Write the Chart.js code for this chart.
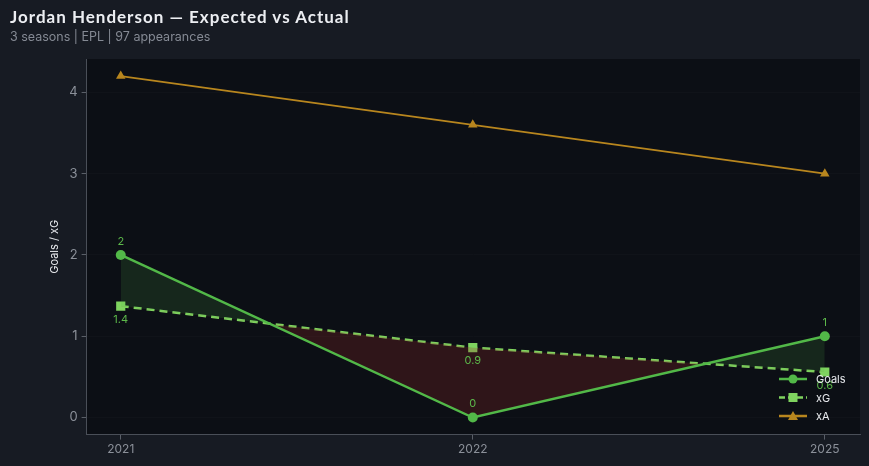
<!DOCTYPE html>
<html>
<head>
<meta charset="utf-8">
<script src="https://cdn.jsdelivr.net/npm/chart.js@4.4.0/dist/chart.umd.min.js"></script>
<style>
  html, body { margin: 0; padding: 0; background: #171b23; }
  #wrap { position: relative; width: 869px; height: 466px; }
  #title { position: absolute; left: 10px; top: 6px; color: #eceef2; font: bold 17px Lato, sans-serif; letter-spacing: 1px; }
  #sub { position: absolute; left: 10px; top: 29px; color: #858a94; font: 12.5px Inter, sans-serif; }
  canvas { position: absolute; left: 0; top: 0; }
</style>
</head>
<body>
<div id="wrap">
  <canvas id="myChart" width="869" height="466"></canvas>
  <div id="title">Jordan Henderson — Expected vs Actual</div>
  <div id="sub">3 seasons | EPL | 97 appearances</div>
</div>
<script>
const seasons = ['2021', '2022', '2025']
const goals = [2, 0, 1]
const xG = [1.37, 0.86, 0.56]
const xA = [4.2, 3.6, 3.0]
const yTicks = [0, 1, 2, 3, 4]

const ctx = document.getElementById('myChart')

const toPoints = (arr) => arr.map((v, i) => ({ x: i, y: v }))

// dark plot background
const plotBg = {
  id: 'plotBg',
  beforeDraw(chart) {
    const { ctx, chartArea: a } = chart
    ctx.save()
    ctx.fillStyle = '#0c0f15'
    ctx.fillRect(a.left, a.top, a.right - a.left, a.bottom - a.top)
    ctx.restore()
  }
}

// value labels for Goals (above) and xG (below)
const valueLabels = {
  id: 'valueLabels',
  afterDatasetsDraw(chart) {
    const c = chart.ctx
    c.save()
    c.font = '11px Inter, sans-serif'
    c.textAlign = 'center'
    chart.getDatasetMeta(0).data.forEach((pt, i) => {
      c.fillStyle = '#5cb84a'
      c.textBaseline = 'bottom'
      c.fillText(String(goals[i]), pt.x, pt.y - 8)
    })
    chart.getDatasetMeta(1).data.forEach((pt, i) => {
      c.fillStyle = '#5cb84a'
      c.textBaseline = 'top'
      c.fillText(xG[i].toFixed(1), pt.x, pt.y + 8)
    })
    c.restore()
  }
}

// legend with line + marker
const lineLegend = {
  id: 'lineLegend',
  afterDraw(chart) {
    const c = chart.ctx
    const items = [
      { label: 'Goals', color: '#52b848', dash: [], marker: 'circle' },
      { label: 'xG', color: '#7fd35f', dash: [6, 3], marker: 'rect' },
      { label: 'xA', color: '#b8861e', dash: [], marker: 'triangle' }
    ]
    const x0 = 779, y0 = 379
    c.save()
    items.forEach((it, i) => {
      const y = y0 + i * 18.5
      c.strokeStyle = it.color
      c.lineWidth = 2.5
      c.setLineDash(it.dash)
      c.beginPath()
      c.moveTo(x0, y)
      c.lineTo(x0 + 28, y)
      c.stroke()
      c.setLineDash([])
      c.fillStyle = it.color
      const mx = x0 + 14
      c.beginPath()
      if (it.marker === 'circle') c.arc(mx, y, 4.5, 0, Math.PI * 2)
      else if (it.marker === 'rect') c.rect(mx - 4.5, y - 4.5, 9, 9)
      else { c.moveTo(mx, y - 5); c.lineTo(mx + 5, y + 4); c.lineTo(mx - 5, y + 4); c.closePath() }
      c.fill()
      c.fillStyle = '#e8eaee'
      c.font = '11px Inter, sans-serif'
      c.textAlign = 'left'
      c.textBaseline = 'middle'
      c.fillText(it.label, x0 + 37, y + 1)
    })
    c.restore()
  }
}

const myChart = new Chart(ctx, {
  type: 'line',
  data: {
    datasets: [
      {
        label: 'Goals',
        data: toPoints(goals),
        borderColor: '#52b848',
        backgroundColor: '#52b848',
        borderWidth: 2.5,
        pointRadius: 5,
        pointStyle: 'circle',
        pointBackgroundColor: '#52b848',
        pointBorderWidth: 0,
        tension: 0,
        fill: { target: '+1', above: 'rgba(82, 184, 72, 0.15)', below: 'rgba(150, 40, 40, 0.25)' }
      },
      {
        label: 'xG',
        data: toPoints(xG),
        borderColor: '#7fd35f',
        backgroundColor: '#7fd35f',
        borderWidth: 2.5,
        borderDash: [8, 5],
        pointRadius: 6.5,
        pointStyle: 'rect',
        pointBackgroundColor: '#7fd35f',
        pointBorderWidth: 0,
        tension: 0,
        fill: false
      },
      {
        label: 'xA',
        data: toPoints(xA),
        borderColor: '#b8861e',
        backgroundColor: '#b8861e',
        borderWidth: 1.8,
        pointRadius: 5.5,
        pointStyle: 'triangle',
        pointBackgroundColor: '#b8861e',
        pointBorderWidth: 0,
        tension: 0,
        fill: false
      }
    ]
  },
  options: {
    responsive: false,
    animation: false,
    layout: { padding: { top: 59, right: 9, left: 48, bottom: 6 } },
    plugins: {
      legend: { display: false },
      tooltip: { enabled: false }
    },
    scales: {
      x: {
        type: 'linear',
        bounds: 'data',
        min: -0.097,
        max: 2.1,
        afterBuildTicks: (scale) => {
          scale.ticks = seasons.map((s, i) => ({ value: i }))
          scale.min = -0.097
          scale.max = 2.1
        },
        ticks: {
          color: '#8b9099',
          font: { size: 12, family: 'Inter, sans-serif' },
          callback: (v) => seasons[v],
          padding: 3
        },
        grid: { display: true, drawOnChartArea: false, color: '#5a5f68', tickLength: 5 },
        border: { color: '#4a4f58' }
      },
      y: {
        min: -0.21,
        max: 4.41,
        afterBuildTicks: (scale) => { scale.ticks = yTicks.map(v => ({ value: v })) },
        ticks: {
          color: '#8b9099',
          font: { size: 13, family: 'Inter, sans-serif' },
          padding: 4
        },
        title: {
          display: true,
          text: 'Goals / xG',
          color: '#e8eaee',
          font: { size: 11, family: 'Inter, sans-serif' },
          padding: { top: 0, bottom: 4 }
        },
        grid: { color: 'rgba(255,255,255,0.02)', tickColor: '#5a5f68', tickLength: 5 },
        border: { color: '#4a4f58' }
      }
    }
  },
  plugins: [plotBg, valueLabels, lineLegend]
})
</script>
</body>
</html>
